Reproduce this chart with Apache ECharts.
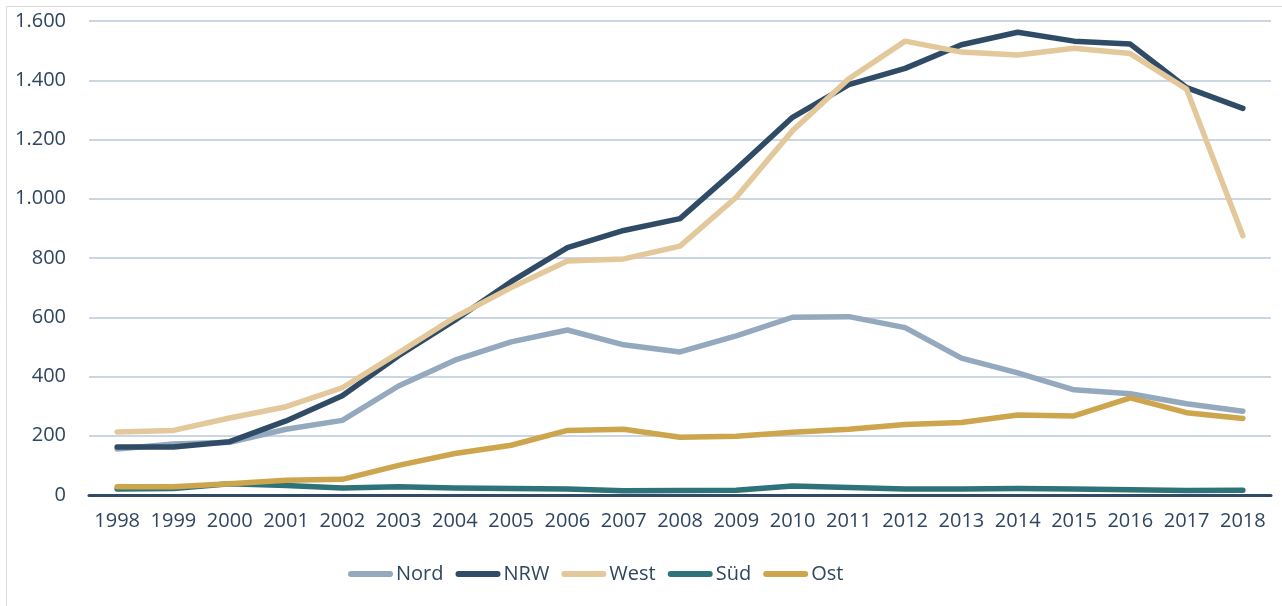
<!DOCTYPE html>
<html>
<head>
<meta charset="utf-8">
<script src="https://cdn.jsdelivr.net/npm/echarts@6/dist/echarts.min.js"></script>
<style>
html,body{margin:0;padding:0;background:#fff;}
#chart{width:1282px;height:606px;}
</style>
</head>
<body>
<div id="chart"></div>
<script>
const years = ['1998','1999','2000','2001','2002','2003','2004','2005','2006','2007','2008','2009','2010','2011','2012','2013','2014','2015','2016','2017','2018'];
const nord = [155,172,178,222,252,368,455,517,557,507,483,537,600,602,565,462,412,355,342,308,283];
const nrw  = [162,162,180,250,335,470,590,720,835,893,933,1100,1275,1385,1440,1520,1562,1532,1522,1375,1305];
const west = [213,218,260,298,362,480,600,700,790,797,840,1005,1230,1405,1532,1495,1485,1508,1490,1370,875];
const sued = [20,22,38,32,24,28,24,22,20,14,15,16,30,25,20,20,22,20,18,15,16];
const ost  = [28,28,38,50,53,100,140,168,218,222,195,198,212,222,238,245,270,267,328,278,258];
const yTicks = ['0','200','400','600','800','1.000','1.200','1.400','1.600'];

const seriesNames = ['Nord','NRW','West','Süd','Ost'];
const seriesData = [nord, nrw, west, sued, ost];
const colors = ['#94a9bd','#2f4b66','#e2c89a','#2e7379','#cda54d'];

const chart = echarts.init(document.getElementById('chart'), null, {renderer:'canvas'});
const font = '"Open Sans", "Noto Sans", sans-serif';
chart.setOption({
  animation:false,
  backgroundColor:'#fff',
  color: colors,
  graphic:[{type:'rect', shape:{x:6.5,y:6.5,width:1400,height:700}, style:{fill:'none', stroke:'#d9d9d9', lineWidth:1}, silent:true, z:-10}],
  grid:{left:89, right:11, top:21, bottom:111, containLabel:false},
  legend:{
    show:true,
    top:559, left:343,
    itemWidth:45, itemHeight:6, itemGap:12,
    icon:'path://M3,0 L42,0 A3,3 0 0 1 42,6 L3,6 A3,3 0 0 1 3,0 Z',
    data: seriesNames,
    textStyle:{color:'#2f4560', fontSize:20, fontFamily:font, padding:[0,0,0,-2]}
  },
  xAxis:{
    type:'category', data:years, boundaryGap:true,
    axisLine:{show:true, lineStyle:{color:'#2f4b66', width:3}},
    axisTick:{show:false},
    axisLabel:{color:'#2f4560', fontSize:20, fontFamily:font, margin:16, interval:0}
  },
  yAxis:{
    type:'value', min:0, max:1600, interval:200,
    axisLine:{show:false}, axisTick:{show:false},
    splitLine:{lineStyle:{color:'#b9c9d9', width:1.5}},
    axisLabel:{color:'#2f4560', fontSize:20, fontFamily:font, margin:23,
      formatter:function(v){ return yTicks[Math.round(v/200)]; }}
  },
  series: seriesNames.map((n,i)=>({
    name:n, type:'line', data:seriesData[i], showSymbol:false, symbol:'none',
    lineStyle:{width:5.5, color:colors[i], cap:'round', join:'round'},
    itemStyle:{color:colors[i]},
    z:2+i
  }))
});
</script>
</body>
</html>
